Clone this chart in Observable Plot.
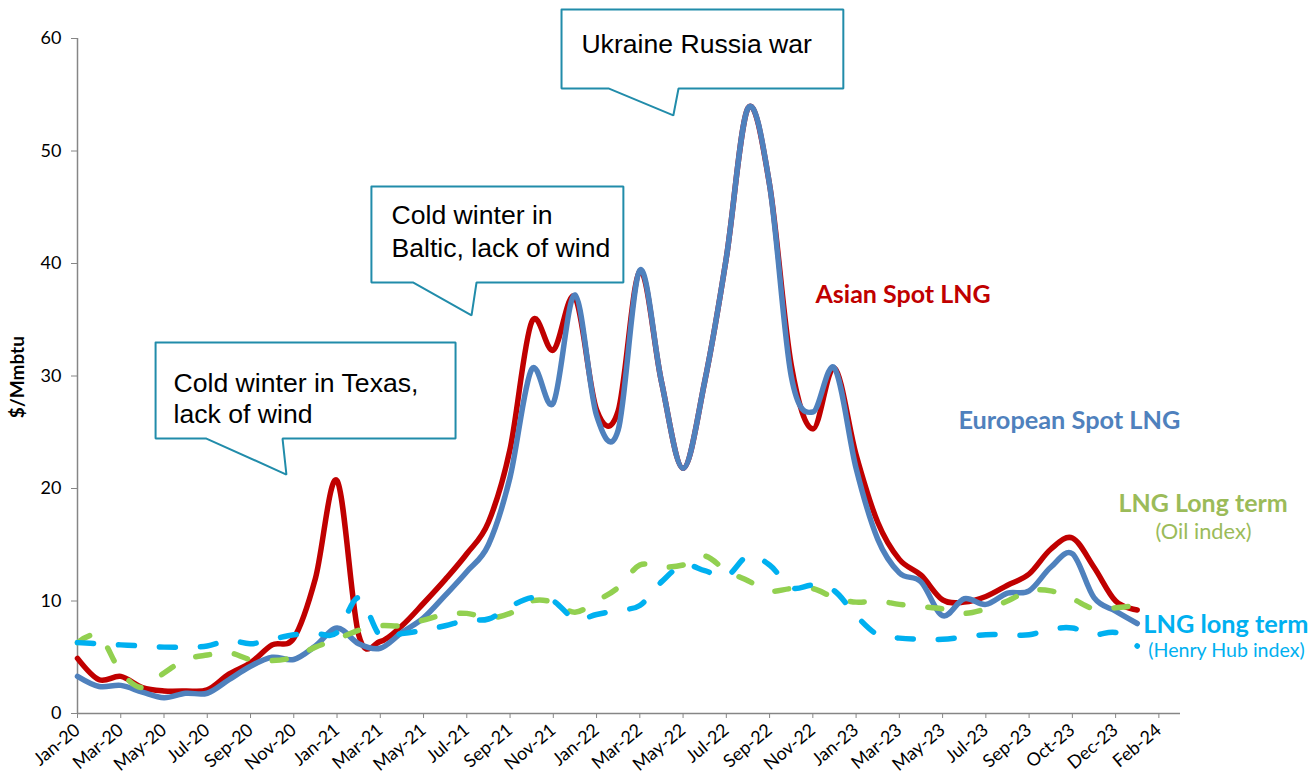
<!DOCTYPE html>
<html>
<head>
<meta charset="utf-8">
<script src="https://cdn.jsdelivr.net/npm/d3@7"></script>
<script src="https://cdn.jsdelivr.net/npm/@observablehq/plot@0.6"></script>
<style>
  html, body { margin: 0; padding: 0; background: #ffffff; }
  #chart { width: 1312px; height: 776px; }
</style>
</head>
<body>
<div id="chart"></div>
<script>
// ---- tick labels (one every second monthly category) ----
const tickLabels = ["Jan-20","Mar-20","May-20","Jul-20","Sep-20","Nov-20","Jan-21","Mar-21","May-21",
  "Jul-21","Sep-21","Nov-21","Jan-22","Mar-22","May-22","Jul-22","Sep-22","Nov-22","Jan-23",
  "Mar-23","May-23","Jul-23","Sep-23","Oct-23","Dec-23","Feb-24"];

// ---- series values ($/Mmbtu), monthly categories starting Jan-20 ----
const asianSpot = [4.9,3.0,3.3,2.3,2.0,2.0,2.1,3.5,4.5,6.1,6.7,12.0,20.7,7.0,6.4,7.8,9.8,11.9,
  14.2,17.0,23.5,34.8,32.3,37.0,27.0,26.9,39.3,29.5,21.8,29.5,40.5,53.8,47.0,31.0,25.3,30.7,
  23.0,17.0,13.7,12.3,10.1,9.9,10.4,11.4,12.4,14.6,15.6,13.0,10.0,9.2];

const europeanSpot = [3.3,2.4,2.5,1.9,1.4,1.8,1.8,3.0,4.2,5.0,4.8,6.0,7.6,6.2,5.8,7.2,8.5,10.5,
  12.6,15.0,21.0,30.6,27.6,37.2,26.5,25.2,39.4,29.5,21.8,29.5,40.5,53.8,47.0,30.0,26.8,30.7,
  21.8,15.5,12.5,11.7,8.7,10.2,9.7,10.7,10.9,13.0,14.2,10.3,9.1,8.0];

const oilIndexLongTerm = [6.3,6.9,3.7,2.3,3.6,4.8,5.2,5.4,4.8,4.7,5.0,5.9,6.6,7.4,7.8,7.8,8.3,8.8,
  8.9,8.5,8.9,10.0,9.9,9.0,10.0,11.2,13.2,13.0,13.2,14.0,12.7,11.8,10.9,11.1,11.1,10.3,
  9.9,10.0,9.7,9.5,9.3,8.9,9.3,10.0,10.9,10.9,10.2,9.3,9.4,9.6];

const henryHubLongTerm = [6.3,6.2,6.1,6.0,5.9,5.9,6.0,6.5,6.2,6.6,7.0,7.1,7.2,10.3,6.9,7.1,7.4,7.8,
  8.3,8.4,9.5,10.3,10.0,8.4,8.8,9.2,9.6,11.7,13.2,12.7,12.2,14.0,13.2,11.2,11.4,10.9,
  8.7,7.0,6.7,6.6,6.6,6.8,7.0,7.0,7.0,7.5,7.6,7.0,7.2,6.0];

// ---- annotations (in data units: category index, $/Mmbtu) ----
const calloutNames = ["texas", "baltic", "ukraine"];
const calloutTexts = ["Cold winter in Texas,\nlack of wind", "Cold winter in\nBaltic, lack of wind", "Ukraine Russia war"];
const calloutBoxes = [ // [left, right, top, bottom, pointerBase1, pointerBase2, tipX, tipY]
  [3.61, 17.48, 32.98, 24.44, 5.96, 9.48, 9.66, 21.24],
  [13.59, 25.24, 46.84, 38.31, 15.53, 18.45, 18.22, 35.38],
  [22.38, 35.41, 62.58, 55.56, 24.55, 27.79, 27.55, 53.16]
];
const calloutTextPos = [[4.44, 25.78, 1.17], [14.52, 40.62, 1.21], [23.30, 58.67, 1.2]];

const seriesLabels = [
  {text: "Asian Spot LNG", x: 34.12, y: 36.53, color: "#C00000", size: 25, weight: "bold"},
  {text: "European Spot LNG", x: 40.73, y: 25.33, color: "#4F81BD", size: 25.3, weight: "bold"},
  {text: "LNG Long term", x: 48.13, y: 17.87, color: "#9BBB59", size: 25, weight: "bold"},
  {text: "(Oil index)", x: 49.84, y: 15.47, color: "#9BBB59", size: 21.8, weight: "normal"},
  {text: "LNG long term", x: 49.28, y: 7.2, color: "#00B0F0", size: 25.3, weight: "bold"},
  {text: "(Henry Hub index)", x: 49.51, y: 4.98, color: "#00B0F0", size: 19.6, weight: "normal"}
];

// ---- build tables ----
const toRows = (arr) => arr.map((v, i) => ({i, v}));
const calloutRows = calloutBoxes.flatMap((b, k) => {
  const [l, r, t, btm, p1, p2, tx, ty] = b;
  return [[l, t], [r, t], [r, btm], [p2, btm], [tx, ty], [p1, btm], [l, btm], [l, t]]
    .map(([x, y]) => ({id: calloutNames[k], x, y}));
});
const calloutTextRows = calloutTexts.map((t, k) => ({
  text: t, x: calloutTextPos[k][0], y: calloutTextPos[k][1], lh: calloutTextPos[k][2]
}));

const lineOpts = {x: "i", y: "v", curve: "cardinal", tension: 0, strokeWidth: 5.5,
  strokeLinecap: "round", strokeLinejoin: "round"};

const marks = [
  Plot.ruleY([0], {stroke: "#868686", strokeWidth: 1.5}),
  Plot.ruleX([0], {stroke: "#868686", strokeWidth: 1.5}),
  Plot.axisY({ticks: d3.range(0, 61, 10), tickSize: 6, tickPadding: 10, stroke: "#868686",
    fill: "#000", label: null, fontSize: 18}),
  Plot.axisX({ticks: d3.range(0, 51, 2), tickFormat: (d) => tickLabels[d / 2], tickRotate: -40,
    tickSize: 5, tickPadding: 9, stroke: "#868686", fill: "#000", label: null, fontSize: 18}),
  Plot.text([{x: -2.77, y: 29.9}], {x: "x", y: "y", text: () => "$/Mmbtu", rotate: -90,
    fontWeight: "bold", fontSize: 19, fill: "#000"}),
  Plot.line(toRows(asianSpot), {...lineOpts, stroke: "#C00000"}),
  Plot.line(toRows(europeanSpot), {...lineOpts, stroke: "#4F81BD"}),
  Plot.line(toRows(oilIndexLongTerm), {...lineOpts, stroke: "#92D050", strokeWidth: 5.5, strokeDasharray: "14,25"}),
  Plot.line(toRows(henryHubLongTerm), {...lineOpts, stroke: "#00B0F0", strokeWidth: 5.5, strokeDasharray: "16,25"}),
  Plot.line(calloutRows, {x: "x", y: "y", z: "id", stroke: "#218CAA", strokeWidth: 2,
    fill: "white", strokeLinejoin: "miter"}),
  ...calloutTextRows.map(r => Plot.text([r], {x: "x", y: "y", text: "text", textAnchor: "start",
    lineAnchor: "bottom", lineHeight: r.lh, fontSize: 26.6, fontFamily: "Liberation Sans", fill: "#000"})),
  ...seriesLabels.map(s => Plot.text([s], {x: "x", y: "y", text: "text", textAnchor: "start",
    lineAnchor: "bottom", fontSize: s.size, fontWeight: s.weight, fill: s.color, fontFamily: "Lato"}))
];

const chart = Plot.plot({
  width: 1312,
  height: 776,
  marginTop: 38,
  marginBottom: 63,
  marginLeft: 77,
  marginRight: 132,
  x: {domain: [0, 51], axis: null},
  y: {domain: [0, 60], axis: null},
  style: {fontFamily: "Lato", fontSize: "18px", background: "white", overflow: "visible", color: "#000"},
  marks
});
document.getElementById("chart").appendChild(chart);
</script>
</body>
</html>
